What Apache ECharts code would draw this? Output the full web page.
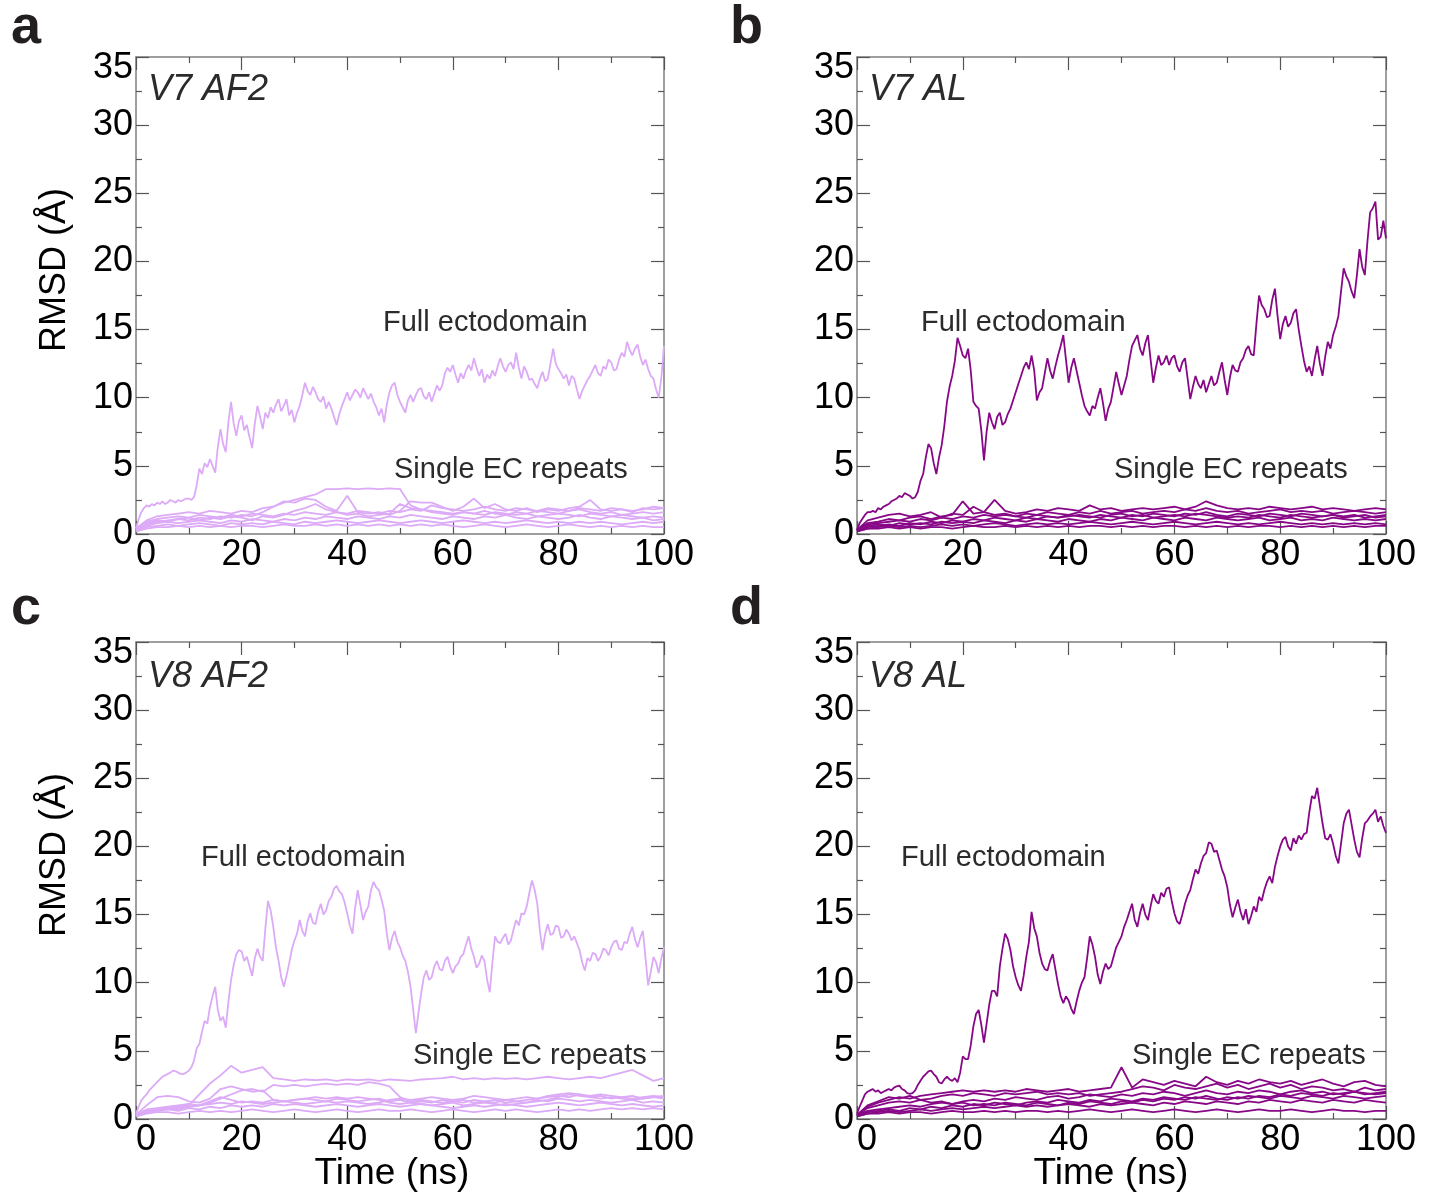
<!DOCTYPE html>
<html>
<head>
<meta charset="utf-8">
<script src="https://cdn.jsdelivr.net/npm/echarts@6/dist/echarts.min.js"></script>
<style>
html, body { margin: 0; padding: 0; background: #fff; }
#chart { width: 1429px; height: 1199px; }
</style>
</head>
<body>
<div id="chart"></div>
<script>
// time grids (ns): full ectodomain read every 0.5 ns, single EC repeats every 2 ns
var timeFull = [];
for (var i = 0; i <= 200; i++) timeFull.push(i / 2);
var timeEC = [];
for (var j = 0; j <= 100; j += 2) timeEC.push(j);

// RMSD (Å) of the full ectodomain, one row per 5 ns
var fullV7AF2 = [
  0.4,1.1,1.6,1.9,2.1,2.0,2.2,2.1,2.3,2.2,
  2.4,2.2,2.3,2.5,2.4,2.3,2.5,2.4,2.5,2.6,
  2.6,2.5,2.7,3.6,4.8,4.4,5.2,4.9,5.5,5.0,
  4.5,6.4,7.7,6.6,6.0,8.2,9.7,8.1,7.2,8.3,
  8.7,7.6,8.0,7.1,6.3,8.1,9.4,8.6,7.7,8.9,
  8.5,9.3,8.9,9.5,9.9,9.0,9.4,9.9,8.7,9.1,
  8.2,8.9,9.4,10.2,11.1,10.5,10.2,10.8,10.4,9.9,
  9.7,10.1,9.2,9.7,9.2,8.6,8.0,8.8,9.4,9.9,
  10.4,9.8,10.2,10.6,10.4,10.0,10.7,10.3,9.9,10.3,
  9.7,9.3,8.7,9.2,8.2,9.5,10.4,10.9,11.1,10.2,
  9.7,9.3,8.9,9.8,10.2,9.7,10.2,10.6,10.7,10.1,
  9.9,10.4,9.7,10.3,10.9,10.5,10.9,11.8,12.2,11.9,
  12.4,11.7,11.1,11.8,11.4,12.0,12.4,12.0,12.9,12.2,
  11.6,12.1,11.1,11.7,11.4,12.0,11.6,12.3,12.9,12.3,
  11.9,12.4,12.6,12.1,13.3,12.2,11.4,12.3,11.9,11.3,
  11.4,11.0,10.7,11.4,11.9,11.2,11.4,12.5,13.6,12.5,
  12.1,11.8,11.4,11.7,10.9,11.6,11.4,10.6,9.9,10.5,
  10.9,11.3,11.6,12.0,12.4,11.8,11.6,12.3,12.1,12.8,
  12.6,12.0,12.1,12.8,13.3,13.0,14.1,13.5,13.1,13.6,
  13.9,13.0,12.4,12.8,12.1,11.6,11.4,10.6,10.0,11.5,
  13.8];
var fullV7AL = [
  0.3,0.8,1.1,1.4,1.6,1.6,1.7,1.6,1.9,1.8,
  2.0,2.1,2.2,2.4,2.5,2.6,2.8,2.7,3.0,2.9,
  2.8,2.6,2.7,3.1,3.9,4.4,5.6,6.6,6.3,5.2,
  4.4,5.6,6.5,7.9,9.7,10.8,11.6,12.7,14.4,13.8,
  13.1,12.9,13.6,12.0,9.7,9.4,9.2,7.6,5.4,7.5,
  8.9,8.2,7.7,8.6,8.9,8.0,8.2,8.8,9.2,9.8,
  10.4,11.0,11.6,12.2,12.6,12.1,13.1,12.0,9.8,10.4,
  10.7,11.8,12.9,12.0,11.4,12.3,13.1,13.8,14.6,12.8,
  11.1,12.2,12.9,12.0,11.1,10.2,9.4,9.0,8.7,9.4,
  9.2,10.0,10.7,9.6,8.3,9.2,9.7,10.8,11.9,11.0,
  10.2,10.9,11.6,12.8,13.8,14.2,14.6,13.6,13.1,14.0,
  14.6,12.8,11.1,12.2,13.1,12.4,12.6,13.1,12.4,12.9,
  13.1,12.3,11.9,12.6,12.9,11.4,9.9,10.8,11.6,11.0,
  10.7,11.3,10.4,11.0,11.6,10.9,11.1,11.9,12.6,11.3,
  10.2,11.5,12.4,12.0,11.9,12.6,12.9,13.5,13.8,13.2,
  13.1,15.4,17.5,16.8,16.5,15.9,16.0,17.2,18.0,16.0,
  14.3,15.4,16.0,15.2,15.5,16.2,16.5,15.0,13.8,12.7,
  11.9,12.3,11.6,12.8,13.8,12.5,11.6,13.0,14.1,13.6,
  14.6,15.2,16.0,17.8,19.5,18.9,18.5,17.8,17.3,19.0,
  20.9,19.6,19.0,21.5,23.6,23.9,24.4,21.6,21.8,23.0,
  21.7];
var fullV8AF2 = [
  0.4,0.9,1.35,1.6,1.8,2.1,2.3,2.5,2.7,2.9,
  3.1,3.2,3.3,3.4,3.55,3.5,3.4,3.3,3.3,3.4,
  3.55,3.8,4.3,5.2,5.5,6.4,7.2,7.0,8.2,9.0,
  9.7,8.0,7.2,7.5,6.7,8.6,10.2,11.3,12.1,12.4,
  12.3,11.6,11.9,11.2,10.5,11.8,12.5,11.9,11.6,14.0,
  16.0,15.3,14.1,12.6,11.6,10.4,9.7,10.5,11.4,12.4,
  13.1,13.6,14.6,13.8,13.4,14.5,15.1,14.4,14.3,15.2,
  15.8,15.0,15.3,16.0,16.3,16.9,17.1,16.7,16.5,15.9,
  15.1,14.2,13.6,15.5,16.8,15.7,14.6,15.2,15.6,16.8,
  17.4,17.0,16.8,16.1,15.3,13.6,12.4,13.3,13.8,13.0,
  12.6,12.0,11.6,10.8,9.7,8.0,6.3,7.8,9.2,10.4,
  10.9,10.2,10.4,11.2,11.6,11.0,10.9,11.6,11.9,11.2,
  10.7,11.2,11.4,11.9,12.1,12.8,13.4,12.5,11.9,11.1,
  11.4,12.0,11.6,10.2,9.3,11.5,13.4,13.0,12.9,13.3,
  13.6,12.8,13.1,13.9,14.6,14.2,15.1,15.0,15.6,16.6,
  17.5,16.8,15.8,13.8,12.4,13.6,14.3,13.5,13.6,14.2,
  14.1,13.3,13.4,13.9,13.6,13.1,13.4,12.9,12.4,11.5,
  10.9,11.8,11.6,12.2,12.1,11.6,11.9,12.5,12.4,12.0,
  12.6,13.0,13.1,12.5,12.4,13.0,12.9,13.6,14.1,13.2,
  12.6,13.3,13.8,11.8,9.8,10.8,11.9,11.5,10.7,11.8,
  12.6];
var fullV8AL = [
  0.4,0.9,1.35,1.8,2.0,2.1,2.2,2.0,2.1,1.9,
  2.0,2.1,2.2,2.1,2.3,2.4,2.45,2.2,2.1,1.9,
  1.85,1.9,2.1,2.5,2.8,3.1,3.3,3.5,3.55,3.3,
  3.1,2.7,2.6,2.9,3.1,2.9,2.8,3.0,2.7,3.4,
  4.6,4.4,4.4,5.4,6.8,7.7,8.0,6.9,5.6,7.0,
  8.4,9.4,9.4,9.0,11.2,12.5,13.6,13.2,12.4,11.2,
  10.4,9.8,9.4,10.5,11.9,13.0,15.2,14.0,13.4,12.2,
  11.4,11.0,10.9,11.6,12.1,11.0,9.9,9.0,8.5,9.0,
  8.7,8.1,7.7,8.6,9.4,10.0,10.4,11.8,13.4,12.8,
  11.9,10.6,9.9,10.8,11.4,11.0,11.2,11.9,12.6,13.0,
  13.4,14.1,14.6,15.2,15.8,14.6,14.1,15.1,15.8,15.0,
  14.6,15.6,16.5,16.0,15.8,16.6,16.3,16.9,17.0,16.0,
  15.1,14.5,14.3,15.0,15.8,16.4,16.8,17.6,18.3,18.0,
  18.75,19.3,19.5,20.3,20.2,19.6,19.7,19.0,18.3,17.8,
  17.0,15.7,14.8,15.5,16.1,15.2,14.6,15.4,14.3,14.9,
  15.6,15.2,16.3,16.0,16.8,17.4,17.8,17.3,18.5,19.3,
  20.0,20.5,20.7,20.0,19.7,20.6,20.2,20.8,20.5,20.9,
  21.0,22.5,23.7,23.5,24.3,23.0,21.7,20.6,20.5,20.9,
  20.2,19.3,18.75,20.2,21.7,22.4,22.7,21.6,20.5,19.6,
  19.2,20.6,21.7,21.9,22.2,22.4,22.7,21.8,22.2,21.5,
  21.0];

// RMSD (Å) of the single EC repeats, one array per repeat (every 2 ns)
var ecV7AF2 = [
  [0.3,0.7,0.9,1.0,1.1,1.0,1.2,1.1,1.3,1.2, 1.4,1.3,1.6,2.0,2.3,2.5,2.7,2.9,3.3,3.3, 3.35,3.3,3.35,3.3,3.35,3.3,2.1,1.8,1.7,1.6, 1.5,1.6,1.5,1.4,1.6,1.5,1.4,1.5,1.3,1.4, 1.5,1.4,1.3,1.5,1.4,1.3,1.4,1.3,1.2,1.3, 1.2],
  [0.4,1.0,1.3,1.4,1.5,1.6,1.5,1.7,1.6,1.5, 1.7,1.6,1.9,2.0,2.4,2.3,2.6,2.5,2.0,1.7, 2.8,1.6,1.5,1.6,1.4,1.7,2.4,2.3,2.3,2.0, 1.7,2.0,2.6,1.9,2.2,1.8,1.7,1.9,1.6,1.8, 1.7,1.9,2.0,2.5,1.8,1.7,1.8,1.6,1.9,1.8, 1.9],
  [0.4,0.8,1.0,0.9,1.1,1.2,1.0,1.2,1.1,1.3, 1.2,1.0,1.3,1.2,1.4,1.7,1.9,2.2,1.8,1.6, 1.4,1.5,1.3,1.4,1.5,2.2,1.9,1.8,1.6,1.5, 1.4,1.6,1.5,1.7,1.5,1.4,1.6,1.5,1.7,1.6, 1.5,1.7,1.8,1.6,1.5,1.6,1.4,1.5,1.6,1.5, 1.6],
  [0.3,0.6,0.8,0.9,0.8,0.9,1.0,0.9,0.8,1.0, 0.9,1.1,1.0,0.9,1.1,1.0,1.2,1.1,1.3,1.2, 1.1,1.3,1.2,1.1,1.3,1.2,1.4,1.3,1.2,1.1, 1.3,1.2,1.1,1.3,1.2,1.4,1.2,1.1,1.3,1.2, 1.1,1.2,1.4,1.2,1.1,1.3,1.2,1.1,1.2,1.0, 1.1],
  [0.2,0.5,0.6,0.7,0.6,0.7,0.8,0.7,0.6,0.8, 0.7,0.8,0.7,0.9,0.8,0.7,0.9,0.8,0.9,1.0, 0.9,0.8,0.9,1.0,0.9,0.8,0.9,1.0,0.9,0.8, 0.9,1.0,0.9,0.8,0.9,0.8,0.9,1.0,0.9,0.8, 0.9,0.8,0.9,0.8,0.9,0.8,0.7,0.8,0.9,0.8, 0.9],
  [0.2,0.4,0.5,0.5,0.6,0.5,0.6,0.5,0.6,0.5, 0.6,0.6,0.5,0.6,0.7,0.6,0.6,0.7,0.6,0.7, 0.6,0.7,0.6,0.7,0.6,0.7,0.6,0.7,0.6,0.7, 0.6,0.5,0.6,0.7,0.6,0.5,0.6,0.7,0.6,0.5, 0.6,0.7,0.6,0.5,0.6,0.5,0.6,0.5,0.6,0.5, 0.5],
  [0.4,0.9,1.1,1.2,1.3,1.2,1.4,1.3,1.2,1.4, 1.3,1.5,1.4,1.3,1.5,1.4,1.6,1.5,1.4,1.6, 1.5,1.7,1.6,1.5,1.7,1.6,1.8,1.7,2.1,1.9, 1.8,1.7,1.8,2.0,1.8,1.7,1.9,1.8,1.7,1.9, 1.8,1.7,1.9,1.8,1.7,1.9,1.8,1.7,1.8,2.0, 1.9]
];
var ecV7AL = [
  [0.3,0.8,0.9,1.1,1.0,1.2,1.3,1.1,1.3,1.4, 2.4,1.5,1.6,2.5,1.7,1.5,1.6,1.8,1.7,1.9, 1.8,1.7,2.1,1.8,1.9,1.7,1.8,1.9,1.8,1.9, 2.0,1.8,2.0,2.4,2.1,1.9,1.8,1.9,1.8,2.0, 1.9,1.8,1.9,2.0,1.8,1.9,1.8,1.7,1.8,1.9, 1.8],
  [0.3,0.7,0.8,0.9,1.0,0.9,1.1,1.0,1.2,1.1, 1.3,1.2,1.4,1.3,1.4,1.3,1.5,1.4,1.6,1.5, 1.4,1.6,1.5,1.7,1.5,1.6,1.7,1.5,1.6,1.7, 1.6,1.8,1.7,1.9,1.7,1.6,1.7,1.5,1.6,1.7, 1.8,1.6,1.7,1.6,1.7,1.5,1.6,1.7,1.6,1.5, 1.6],
  [0.2,0.5,0.6,0.7,0.6,0.8,0.7,0.9,0.8,1.0, 0.9,1.1,1.0,1.2,1.1,1.0,1.2,1.1,1.3,1.2, 1.4,1.3,1.2,1.4,1.3,1.2,1.4,1.3,1.5,1.4, 1.3,1.5,1.4,1.6,1.4,1.3,1.5,1.4,1.3,1.5, 1.4,1.3,1.5,1.4,1.3,1.4,1.3,1.4,1.2,1.3, 1.4],
  [0.3,0.6,0.7,0.6,0.8,0.7,0.8,0.7,0.9,0.8, 0.9,0.8,1.0,0.9,0.8,1.0,0.9,1.1,1.0,0.9, 1.1,1.0,0.9,1.1,1.0,1.2,1.1,1.0,1.2,1.1, 1.0,1.2,1.1,1.0,1.2,1.1,1.0,1.1,1.2,1.0, 1.1,1.2,1.0,1.1,1.0,1.2,1.1,1.0,1.1,1.0, 1.1],
  [0.2,0.4,0.5,0.6,0.5,0.6,0.5,0.6,0.7,0.6, 0.7,0.6,0.7,0.8,0.7,0.6,0.7,0.8,0.7,0.8, 0.7,0.8,0.9,0.8,0.7,0.8,0.9,0.8,0.7,0.8, 0.9,0.8,0.7,0.8,0.9,0.8,0.7,0.8,0.7,0.8, 0.9,0.8,0.7,0.8,0.7,0.8,0.7,0.8,0.7,0.8, 0.7],
  [0.2,0.4,0.4,0.5,0.4,0.5,0.4,0.5,0.5,0.4, 0.5,0.6,0.5,0.5,0.6,0.5,0.6,0.5,0.6,0.5, 0.6,0.5,0.6,0.6,0.5,0.6,0.5,0.6,0.5,0.6, 0.6,0.5,0.6,0.5,0.6,0.5,0.6,0.5,0.6,0.6, 0.5,0.6,0.5,0.6,0.5,0.6,0.5,0.6,0.5,0.6, 0.6],
  [0.3,1.0,1.2,1.4,1.5,1.3,1.4,1.6,1.2,1.5, 1.4,2.0,1.6,1.4,1.5,1.3,1.2,1.4,1.3,1.2, 1.3,1.4,1.3,1.2,1.4,1.5,1.3,1.4,1.2,1.3, 1.4,1.3,1.5,1.4,1.3,1.2,1.3,1.2,1.4,1.3, 1.2,1.4,1.3,1.2,1.3,1.4,1.2,1.3,1.4,1.2, 1.3]
];
var ecV8AF2 = [
  [0.3,0.5,0.7,0.8,0.9,1.0,1.8,2.6,3.2,3.9, 3.4,3.6,3.8,3.0,2.9,2.8,2.9,2.85,2.9,2.8, 2.9,2.85,2.9,2.8,2.9,2.85,2.8,2.9,2.95,3.0, 3.1,2.9,3.0,2.9,3.0,2.95,3.0,2.9,3.0,3.1, 3.0,2.9,3.0,3.1,3.0,3.2,3.4,3.6,3.2,2.8, 3.0],
  [0.3,1.0,1.6,1.7,1.6,1.3,1.2,1.5,2.2,2.4, 2.2,2.0,2.1,1.4,1.3,1.4,1.5,1.4,1.3,1.5, 1.4,1.3,1.4,1.5,1.3,1.4,1.2,1.3,1.2,1.4, 1.3,1.2,1.4,1.3,1.2,1.4,1.3,1.4,1.5,1.6, 1.7,1.6,1.8,1.6,1.5,1.6,1.5,1.4,1.5,1.6, 1.5],
  [0.2,0.5,0.6,0.7,0.8,0.9,1.0,1.2,1.5,1.8, 2.1,2.2,2.0,2.5,2.4,2.5,2.4,2.5,2.6,2.5, 2.6,2.5,2.7,2.6,2.4,1.6,1.3,1.4,1.3,1.2, 1.3,1.4,1.2,1.3,1.4,1.2,1.3,1.2,1.4,1.3, 1.5,1.4,1.3,1.4,1.3,1.2,1.3,1.4,1.2,1.3, 1.2],
  [0.2,0.6,0.7,0.8,0.7,0.9,1.0,1.3,1.6,1.4, 1.2,1.3,1.2,1.4,1.3,1.4,1.5,1.6,1.5,1.6, 1.5,1.6,1.5,1.4,1.2,1.1,1.2,1.1,1.0,1.1, 1.2,1.0,1.1,1.2,1.1,1.0,1.1,1.2,1.3,1.4, 1.6,1.8,1.7,1.6,1.7,1.5,1.6,1.7,1.5,1.6, 1.7],
  [0.2,0.5,0.6,0.7,0.6,0.8,0.7,0.9,0.8,1.0, 0.9,1.0,0.9,1.1,1.0,1.1,1.0,0.9,1.0,1.1, 1.0,0.9,1.0,1.1,1.0,0.9,1.0,1.1,1.0,0.9, 0.8,0.9,1.0,0.9,1.0,1.1,1.0,0.9,1.0,1.1, 1.2,1.1,1.0,1.1,1.2,1.1,1.0,1.1,1.0,0.9, 1.0],
  [0.2,0.4,0.5,0.5,0.4,0.5,0.6,0.5,0.6,0.5, 0.6,0.7,0.6,0.5,0.6,0.7,0.6,0.5,0.6,0.7, 0.6,0.5,0.6,0.7,0.6,0.6,0.7,0.6,0.5,0.6, 0.7,0.6,0.5,0.6,0.7,0.6,0.7,0.6,0.5,0.6, 0.7,0.6,0.7,0.6,0.7,0.8,0.7,0.8,0.7,0.8, 0.7],
  [0.3,0.7,0.8,0.9,1.0,1.1,1.0,1.1,1.2,1.1, 1.3,1.2,1.1,1.2,1.3,1.2,1.1,1.2,1.3,1.2, 1.3,1.2,1.1,1.2,1.4,1.5,1.4,1.5,1.6,1.5, 1.4,1.5,1.7,1.6,1.5,1.4,1.5,1.6,1.5,1.7, 1.8,1.9,1.8,1.7,1.8,1.7,1.6,1.5,1.6,1.7, 1.6]
];
var ecV8AL = [
  [0.3,0.9,1.2,1.4,1.6,1.5,1.7,1.8,1.9,2.0, 2.1,2.0,2.1,2.0,2.1,2.0,2.2,2.1,2.0,2.1, 2.2,2.0,2.1,2.2,2.3,3.8,2.3,2.9,2.7,2.5, 2.8,2.6,2.4,3.1,2.7,2.5,2.8,2.6,2.9,2.7, 2.6,2.8,2.5,2.7,2.9,2.6,2.4,2.7,2.8,2.5, 2.4],
  [0.3,0.8,1.0,1.2,1.3,1.2,1.4,1.5,1.7,1.8, 1.7,1.9,1.8,1.7,1.9,1.8,1.9,2.0,1.8,1.9, 1.8,1.9,1.7,1.8,1.9,2.0,2.2,2.4,2.3,2.1, 2.5,2.3,2.2,2.4,2.6,2.3,2.5,2.2,2.4,2.6, 2.3,2.5,2.2,2.4,2.3,2.1,2.2,2.0,2.3,2.1, 2.2],
  [0.3,0.6,0.7,0.8,0.9,1.0,0.9,1.1,1.2,1.1, 1.3,1.4,1.3,1.5,1.4,1.6,1.5,1.4,1.6,1.7, 1.5,1.6,1.8,1.7,1.6,1.8,1.7,1.9,1.8,2.0, 1.9,1.7,1.9,2.1,1.9,1.8,2.0,1.9,2.1,2.0, 1.8,2.0,2.1,1.9,2.0,1.8,1.9,2.0,1.8,1.9, 2.0],
  [0.2,0.5,0.6,0.7,0.6,0.8,0.7,0.9,0.8,1.0, 0.9,1.1,1.0,1.2,1.1,1.0,1.2,1.3,1.2,1.4, 1.3,1.2,1.4,1.3,1.5,1.4,1.3,1.5,1.4,1.6, 1.5,1.4,1.6,1.5,1.4,1.6,1.5,1.7,1.6,1.5, 1.7,1.6,1.5,1.7,1.6,1.5,1.7,1.6,1.5,1.6, 1.7],
  [0.2,0.4,0.5,0.6,0.5,0.6,0.7,0.6,0.7,0.8, 0.7,0.8,0.9,0.8,0.9,1.0,0.9,1.0,0.9,1.0, 1.1,1.0,0.9,1.1,1.0,1.1,1.2,1.1,1.0,1.2, 1.1,1.3,1.2,1.1,1.3,1.2,1.1,1.3,1.2,1.4, 1.3,1.2,1.4,1.3,1.2,1.4,1.3,1.2,1.4,1.3, 1.2],
  [0.2,0.4,0.4,0.5,0.4,0.5,0.5,0.4,0.5,0.6, 0.5,0.5,0.6,0.5,0.6,0.5,0.6,0.6,0.5,0.6, 0.5,0.6,0.7,0.6,0.5,0.6,0.7,0.6,0.5,0.6, 0.7,0.6,0.5,0.6,0.7,0.6,0.5,0.6,0.7,0.6, 0.6,0.7,0.6,0.5,0.6,0.7,0.6,0.6,0.5,0.6, 0.6],
  [0.3,1.0,1.3,1.6,1.5,1.7,1.4,1.2,1.3,1.1, 1.2,1.0,1.1,1.0,1.2,1.1,1.0,1.2,1.1,1.0, 1.2,1.1,1.3,1.2,1.1,1.3,1.2,1.4,1.3,1.5, 1.4,1.6,1.5,1.7,1.5,1.4,1.6,1.5,1.7,1.6, 1.8,1.7,1.9,1.8,1.7,1.9,1.8,2.0,1.9,1.8, 1.9]
];

var xTicks = { min: 0, max: 100, interval: 20 };
var yTicks = { min: 0, max: 35, interval: 5 };

var FONT = '"Liberation Sans", Arial, Helvetica, sans-serif';
var LIGHT = '#dcaaf7';
var DARK = '#870787';

var panels = [
  { letter: 'a', tag: 'V7 AF2', full: fullV7AF2, ec: ecV7AF2, color: LIGHT,
    grid: { left: 136, top: 57, width: 528, height: 477 },
    fullAt: [383, 323], ecAt: [394, 470], yTitleY: 270, xTitleX: null },
  { letter: 'b', tag: 'V7 AL', full: fullV7AL, ec: ecV7AL, color: DARK,
    grid: { left: 857, top: 57, width: 529, height: 477 },
    fullAt: [921, 323], ecAt: [1114, 470], yTitleY: null, xTitleX: null },
  { letter: 'c', tag: 'V8 AF2', full: fullV8AF2, ec: ecV8AF2, color: LIGHT,
    grid: { left: 136, top: 642, width: 528, height: 477 },
    fullAt: [201, 858], ecAt: [413, 1056], yTitleY: 855, xTitleX: 392 },
  { letter: 'd', tag: 'V8 AL', full: fullV8AL, ec: ecV8AL, color: DARK,
    grid: { left: 857, top: 642, width: 529, height: 477 },
    fullAt: [901, 858], ecAt: [1132, 1056], yTitleY: null, xTitleX: 1111 }
];

var frameLine = { color: '#7f7f7f', width: 1.5 };
var tickLine = { color: '#555555', width: 1.2 };

function makeAxis(base, gi, pos, labels) {
  return Object.assign({
    gridIndex: gi,
    type: 'value',
    position: pos,
    axisLine: { show: true, onZero: false, lineStyle: frameLine },
    axisTick: { show: true, inside: true, length: 13, lineStyle: tickLine },
    minorTick: { show: true, splitNumber: 2, length: 6, lineStyle: tickLine },
    splitLine: { show: false },
    minorSplitLine: { show: false },
    axisLabel: {
      show: labels, margin: 3, fontSize: 36, color: '#000', fontFamily: FONT
    }
  }, base);
}

var grids = [], xAxes = [], yAxes = [], series = [], texts = [];

function txt(x, y, s, font, fill, align, rot) {
  return {
    type: 'text', x: x, y: y, rotation: rot || 0, silent: true,
    style: {
      text: s, font: font, fill: fill,
      align: align, textAlign: align,
      verticalAlign: 'middle', textVerticalAlign: 'middle'
    }
  };
}

panels.forEach(function (p, k) {
  grids.push(Object.assign({ containLabel: false }, p.grid));
  var xb = makeAxis(xTicks, k, 'bottom', true);
  xb.axisLabel.alignMinLabel = 'left';
  xAxes.push(xb);
  xAxes.push(makeAxis(xTicks, k, 'top', false));
  var yl = makeAxis(yTicks, k, 'left', true);
  // the top label sits a little below its tick, as in the figure
  yl.axisLabel.formatter = function (v) { return v === 35 ? '{top|35}' : String(v); };
  yl.axisLabel.rich = { top: { fontSize: 36, fontFamily: FONT, color: '#000', padding: [22, 0, 0, 0] } };
  yAxes.push(yl);
  yAxes.push(makeAxis(yTicks, k, 'right', false));

  p.ec.forEach(function (vals, r) {
    series.push({
      name: p.tag + ' EC' + (r + 1), type: 'line',
      xAxisIndex: 2 * k, yAxisIndex: 2 * k,
      data: timeEC.map(function (t, n) { return [t, vals[n]]; }),
      showSymbol: false, symbol: 'none', silent: true,
      lineStyle: { color: p.color, width: 1.8 }
    });
  });
  series.push({
    name: p.tag + ' full', type: 'line',
    xAxisIndex: 2 * k, yAxisIndex: 2 * k,
    data: timeFull.map(function (t, n) { return [t, p.full[n]]; }),
    showSymbol: false, symbol: 'none', silent: true,
    lineStyle: { color: p.color, width: 1.8 }
  });

  var g = p.grid;
  var row2 = g.top > 300;
  texts.push(txt(g.left < 300 ? 11 : 730, row2 ? 609 : 28, p.letter, 'bold 54px ' + FONT, '#231f20', 'left'));
  texts.push(txt(g.left + 12, row2 ? 677 : 90, p.tag, 'italic 36px ' + FONT, '#2b2b2b', 'left'));
  texts.push(txt(p.fullAt[0], p.fullAt[1], 'Full ectodomain', '29px ' + FONT, '#2b2b2b', 'left'));
  texts.push(txt(p.ecAt[0], p.ecAt[1], 'Single EC repeats', '29px ' + FONT, '#2b2b2b', 'left'));
  if (p.yTitleY) {
    texts.push(txt(55, p.yTitleY, 'RMSD (Å)', '36px ' + FONT, '#000', 'center', Math.PI / 2));
  }
  if (p.xTitleX) {
    texts.push(txt(p.xTitleX, 1174, 'Time (ns)', '37px ' + FONT, '#000', 'center'));
  }
});

var myChart = echarts.init(document.getElementById('chart'), null, { renderer: 'canvas' });
myChart.setOption({
  animation: false,
  backgroundColor: '#fff',
  grid: grids,
  xAxis: xAxes,
  yAxis: yAxes,
  series: series,
  graphic: { elements: texts }
});
</script>
</body>
</html>
